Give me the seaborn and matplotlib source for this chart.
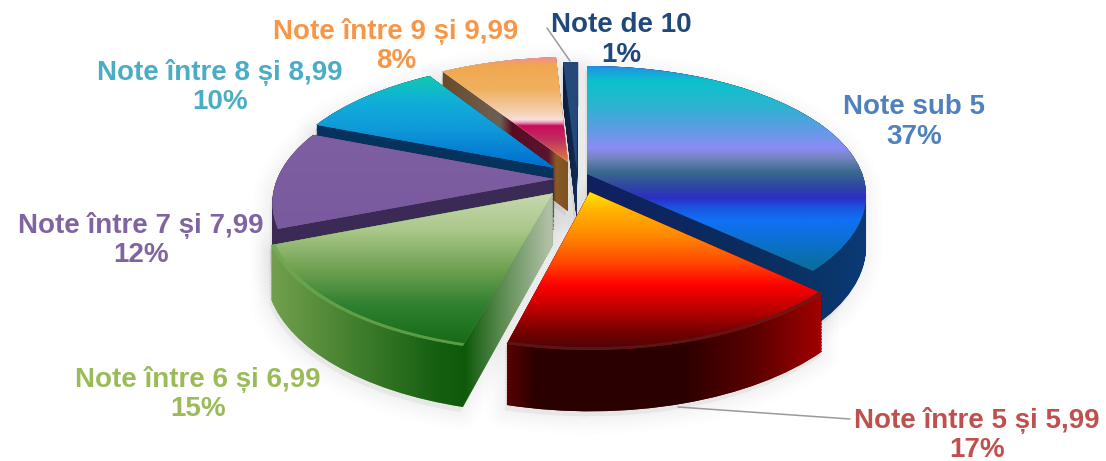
import numpy as np
import seaborn as sns
from matplotlib import pyplot as plt
from matplotlib.colors import to_rgb
from matplotlib.patches import PathPatch, Wedge
from matplotlib.path import Path
from matplotlib.transforms import Affine2D, Transform

categories = ['Note sub 5', 'Note între 5 și 5,99', 'Note între 6 și 6,99', 'Note între 7 și 7,99',
              'Note între 8 și 8,99', 'Note între 9 și 9,99', 'Note de 10']
values = [37, 17, 15, 12, 10, 8, 1]

# culori etichete
label_colors = ['#4f81bd', '#c0504d', '#9bbb59', '#8064a2', '#4bacc6', '#f79646', '#1f497d']
# pozitie eticheta (centru, in pixeli)
label_pos = [(914, 122), (977, 435), (198, 394), (141, 240), (220, 87), (396, 46), (621, 40)]

# cat de departe e scoasa fiecare felie, in coordonatele pie-ului
offsets = [(0, 0), (0.01, -0.14), (-0.12, -0.15), (-0.118, -0.04),
           (-0.12, 0.05), (-0.07, 0.097), (-0.038, 0.043)]
# ordinea de desenare, din spate in fata
draw_rank = [5, 7, 6, 4, 3, 2, 1]

# degradeuri: (y pixel, culoare) pe fata de sus, (x pixel, culoare) pe lateral
top_stops = [
    [(66, '#2090e8'), (82, '#0cc2cc'), (105, '#2ab5d0'), (125, '#55a0e0'), (148, '#8a8cf5'), (158, '#7585c0'),
     (172, '#3a6a8e'), (185, '#2f4aa0'), (198, '#2d2dc4'), (208, '#1a55e0'), (220, '#1070f5'), (250, '#0a70c0'),
     (275, '#0a6c90')],
    [(193, '#ffe600'), (210, '#ffb400'), (235, '#ff8a00'), (262, '#ff4a00'), (285, '#ff0000'), (305, '#c80000'),
     (330, '#7a0000'), (350, '#4a0505')],
    [(192, '#c8d8b0'), (230, '#aac88a'), (270, '#6ea050'), (305, '#2f8030'), (345, '#156a15')],
    [(135, '#7e5fa2'), (230, '#7a5a9e')],
    [(78, '#10c8b0'), (100, '#10b0d8'), (130, '#1098d8'), (165, '#0070d0')],
    [(58, '#f09090'), (66, '#f0a850'), (90, '#f0b060'), (112, '#f5d0b0'), (120, '#f8e0d8'), (123, '#e090b8'),
     (126, '#cc0a5a'), (140, '#c03060'), (162, '#e08040')],
    [(60, '#24497a'), (170, '#24497a')],
]
side_stops = [
    [(587, '#101f60'), (780, '#0a3060'), (866, '#0a3a75')],
    [(507, '#5a0000'), (535, '#2a0000'), (680, '#2a0000'), (760, '#600000'), (818, '#a00000')],
    [(270, '#74a04e'), (340, '#4a8532'), (440, '#135e10'), (465, '#0f5a0a'), (500, '#5a8a50'), (548, '#b0bfa5')],
    [(275, '#3a2a55'), (555, '#3a2a55')],
    [(310, '#05335e'), (558, '#05335e')],
    [(437, '#6b4a25'), (500, '#6e5f55'), (512, '#5a0a20'), (548, '#5a1530'), (556, '#8a5a25'), (570, '#7a4f22')],
    [(560, '#0a1a3a'), (580, '#14305a')],
]
rim_colors = [None, '#5e1a1a', '#6fa850', None, None, None, None]

# leader lines (pixeli)
leaders = [((547, 28), (570, 61)), ((678, 407), (850, 419))]

W, H = 1106, 461
CX, CY = 587, 174
RX, RY = 275.3, 125.6
K = 0.163
DEPTH = 50


# perspectiva: pie-ul e un cerc, il trimitem in pixeli; z coboara spre baza feliei
class PieProjection(Transform):
    input_dims = 2
    output_dims = 2

    def __init__(self, z=0.0):
        super().__init__()
        self.z = z

    def transform_non_affine(self, values):
        values = np.asarray(values, dtype=float)
        u, v = values[:, 0], values[:, 1]
        w = 1 + K * v
        return np.column_stack([CX + RX * u / w, CY - RY * v / w + self.z * DEPTH / w])


def ramp(stops, size):
    pos = [s[0] for s in stops]
    rgb = np.array([to_rgb(s[1]) for s in stops])
    return np.stack([np.interp(np.arange(size), pos, rgb[:, i]) for i in range(3)], axis=-1)


sns.set_theme(style='white')
plt.rcParams['font.family'] = ['Liberation Sans', 'DejaVu Sans']

fig = plt.figure(figsize=(W / 100, H / 100), dpi=100)
ax = fig.add_axes([0, 0, 1, 1])
wedges, _ = ax.pie(values, startangle=90, counterclock=False, radius=1, frame=True)

for i, w in enumerate(wedges):
    w.set_center(offsets[i])
    w.set_transform(PieProjection() + ax.transData)
    w.set_facecolor(top_stops[i][len(top_stops[i]) // 2][1])
    w.set_edgecolor('none')
    z0 = draw_rank[i] * 10
    w.set_zorder(z0 + 2)

    # corpul feliei: toate straturile intr-o singura cale
    layers = [PieProjection(z).transform_path(w.get_path()) for z in np.linspace(0, 1, 40)]
    body = Path.make_compound_path(*layers)

    # umbra
    for lw in (3, 7, 11, 15, 20, 26):
        ax.add_patch(PathPatch(body, fc='k', ec='k', alpha=0.009, lw=lw, zorder=1, joinstyle='round',
                               transform=Affine2D().translate(-2, 5) + ax.transData))

    body_patch = PathPatch(body, fc=side_stops[i][0][1], ec='none', zorder=z0, transform=ax.transData)
    ax.add_patch(body_patch)
    im = ax.imshow(ramp(side_stops[i], W)[None, :, :], extent=(0, W, H, 0), aspect='auto',
                   interpolation='bilinear', zorder=z0 + 1)
    im.set_clip_path(body_patch)

    im = ax.imshow(ramp(top_stops[i], H)[:, None, :], extent=(0, W, H, 0), aspect='auto',
                   interpolation='bilinear', zorder=z0 + 3)
    im.set_clip_path(w)

    if rim_colors[i]:
        ax.add_patch(Wedge(offsets[i], 1.0, w.theta1, w.theta2, width=0.014, fc=rim_colors[i], ec='none',
                           alpha=0.8, zorder=z0 + 4, transform=PieProjection() + ax.transData))

for a, b in leaders:
    ax.plot([a[0], b[0]], [a[1], b[1]], color='#9a9a9a', lw=1.1, zorder=100)

for name, val, col, pos in zip(categories, values, label_colors, label_pos):
    ax.text(pos[0], pos[1], f'{name}\n{val}%', color=col, fontsize=20, fontweight='bold', ha='center',
            va='center', linespacing=1.17, zorder=101)

ax.set_aspect('auto')
ax.set_xlim(0, W)
ax.set_ylim(H, 0)
ax.axis('off')
fig.savefig('out.png', dpi=100, facecolor='white')
